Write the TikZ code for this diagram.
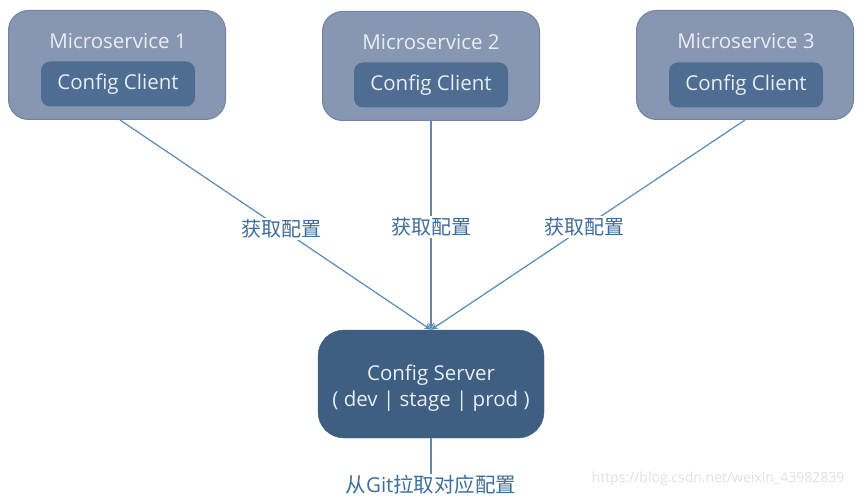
\documentclass[tikz,border=0pt]{standalone}
\usepackage{fontspec}
\setmainfont{Open Sans}
\newfontfamily\cjk{Noto Sans CJK SC}
\usetikzlibrary{arrows.meta}
\definecolor{outerfill}{HTML}{8797B1}
\definecolor{outerline}{HTML}{71839F}
\definecolor{innerfill}{HTML}{4F6D92}
\definecolor{serverfill}{HTML}{3E5E82}
\definecolor{boxtext}{HTML}{E8EDF3}
\definecolor{linkcol}{HTML}{5A8AB5}
\definecolor{labcol}{HTML}{3D6D9B}
\tikzset{
  outerbox/.style={draw=outerline, line width=1pt, fill=outerfill, rounded corners=20pt, minimum width=217pt, minimum height=109pt, inner sep=0pt},
  innerbox/.style={fill=innerfill, rounded corners=9pt, minimum width=154pt, minimum height=45pt, inner sep=0pt, text=boxtext, font=\fontsize{20.5}{24}\selectfont, text height=14pt, text depth=2pt},
  titletext/.style={text=boxtext, font=\fontsize{20.5}{24}\selectfont, inner sep=0pt},
  serverbox/.style={draw=serverfill, fill=serverfill, rounded corners=26pt, minimum width=226pt, minimum height=108pt, inner sep=0pt},
  servertext/.style={text=boxtext, font=\fontsize{20.5}{26}\selectfont, align=center, inner sep=0pt},
  link/.style={draw=linkcol, line width=1.2pt},
  arrowlink/.style={link, -{Stealth[length=7pt,width=6pt]}},
  linklabel/.style={fill=white, text=labcol, font=\cjk\fontsize{20}{22}\selectfont, inner sep=2pt}
}
\begin{document}
\begin{tikzpicture}[x=1pt,y=-1pt]
\useasboundingbox (0,0) rectangle (868,500);
% microservice boxes
\node[outerbox] (m1) at (117,65) {};
\node[outerbox] (m2) at (431,66) {};
\node[outerbox] (m3) at (745,65) {};
\node[titletext] (t1) at (118,41) {Microservice 1};
\node[titletext] (t2) at (431,42) {Microservice 2};
\node[titletext] (t3) at (746,41) {Microservice 3};
\node[innerbox] (c1) at (118,84) {Config Client};
\node[innerbox] (c2) at (431,85) {Config Client};
\node[innerbox] (c3) at (746,85) {Config Client};
% server
\node[serverbox] (srv) at (431,384) {};
\node[servertext] (srvt) at (431,388) {Config Server\\( dev | stage | prod )};
\coordinate (a1) at (120,120);
\coordinate (a2) at (431,120);
\coordinate (a3) at (745,120);
\draw[arrowlink] (a1) -- node[linklabel, pos=0.52] (l1) {获取配置} (srv.north);
\draw[arrowlink] (a2) -- node[linklabel, pos=0.51] (l2) {获取配置} (srv.north);
\draw[arrowlink] (a3) -- node[linklabel, pos=0.51] (l3) {获取配置} (srv.north);
% bottom
\node[text=labcol, font=\fontsize{20.5}{22}\selectfont, inner sep=1pt] (git) at (431,485) {{\cjk 从}Git{\cjk 拉取对应配置}};
\draw[link] (srv.south) -- (git.north);
% watermark
\node[text=black!12, font=\fontsize{14}{16}\selectfont, inner sep=0pt] (wm) at (718,479) {https://blog.csdn.net/weixin\_43982839};
\end{tikzpicture}
\end{document}
